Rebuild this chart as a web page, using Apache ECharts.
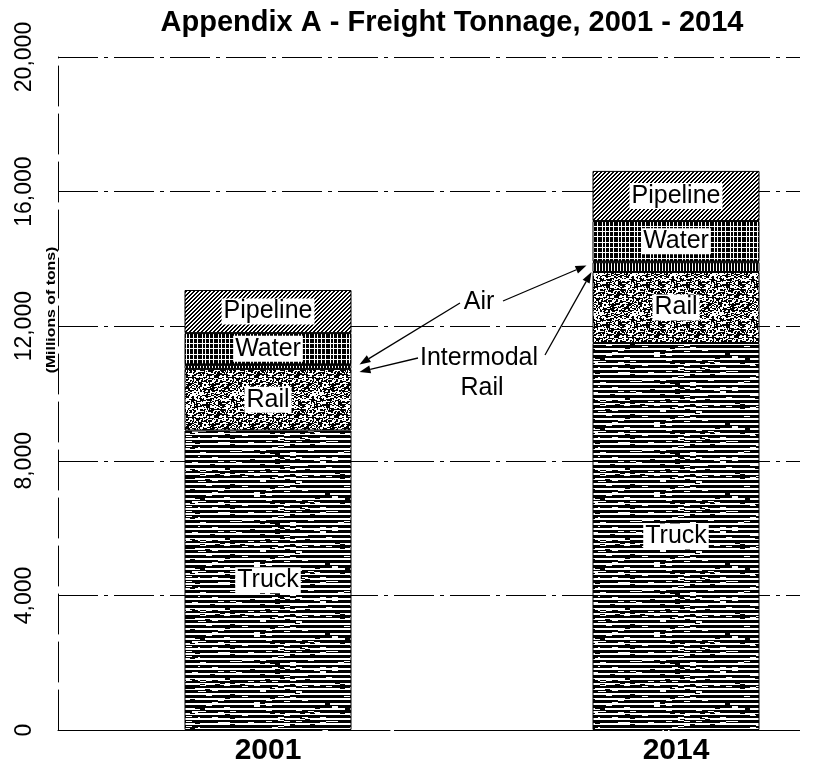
<!DOCTYPE html>
<html lang="en">
<head>
<meta charset="UTF-8">
<title>Freight Tonnage</title>
<script src="https://cdn.jsdelivr.net/npm/echarts@6/dist/echarts.min.js"></script>
<style>
  html, body { margin: 0; background: #fff; }
  #main { width: 814px; height: 767px; }
</style>
</head>
<body>
<div id="main"></div>
<script>
// data (millions of tons)
var years = ['2001', '2014'];
var truck = [8900, 11500];
var rail = [1830, 2110];
var intermodal = [120, 290];
var air = [15, 25];
var water = [930, 1200];
var pipeline = [1280, 1490];
var yMin = 0, yMax = 20000, yStep = 4000;

var FONT = '"Liberation Sans", Arial, sans-serif';

// small deterministic hash for the scan-like textures
function hash(x, y) {
  var n = (x * 374761393 + y * 668265263) | 0;
  n = Math.imul(n ^ (n >>> 13), 1274126177);
  return ((n ^ (n >>> 16)) >>> 0) / 4294967296;
}
function tile(w, h, fn) {
  var c = document.createElement('canvas');
  c.width = w; c.height = h;
  var ctx = c.getContext('2d');
  ctx.fillStyle = '#fff';
  ctx.fillRect(0, 0, w, h);
  ctx.fillStyle = '#000';
  for (var y = 0; y < h; y++) {
    for (var x = 0; x < w; x++) {
      if (fn(x, y)) ctx.fillRect(x, y, 1, 1);
    }
  }
  return { image: c, repeat: 'repeat' };
}

// heavy horizontal lines with thin white dashes
var truckFill = tile(200, 70, function (x, y) {
  var r = y % 5;
  if (r < 3) return hash(Math.floor(x / 6), y + 7) > 0.1;
  return hash(Math.floor(x / 5), y + 31) < 0.07;
});
var railFill = tile(40, 40, function (x, y) {
  return hash(x >> 1, y) * 0.6 + hash(x, y >> 1) * 0.4 < 0.5;
});
var interFill = tile(3, 4, function (x, y) { return x < 2; });
var airFill = '#000';
var waterFill = tile(16, 16, function (x, y) {
  var hl = (y === 2 || y === 7 || y === 12);
  var vl = (x === 1 || x === 5 || x === 10 || x === 13);
  return !(hl || vl);
});
var pipeFill = tile(4, 4, function (x, y) { return (x + y) % 4 < 2; });

function layer(name, data, fill, showLabel) {
  return {
    name: name,
    type: 'bar',
    stack: 'total',
    xAxisIndex: 1,
    yAxisIndex: 1,
    barWidth: 167,
    clip: false,
    data: data,
    itemStyle: { color: fill, borderColor: '#000', borderWidth: 1 },
    label: {
      show: showLabel,
      position: 'inside',
      formatter: '{a}',
      color: '#000',
      fontSize: 25,
      fontFamily: FONT,
      backgroundColor: '#fff',
      padding: [1, 2, 0, 2]
    },
    emphasis: { disabled: true },
    silent: true
  };
}

var chart = echarts.init(document.getElementById('main'));
var gridLine = { color: '#000', width: 1, type: [40, 6, 4, 6] };

chart.setOption({
  animation: false,
  backgroundColor: '#fff',
  title: {
    text: 'Appendix A - Freight Tonnage, 2001 - 2014',
    left: 447,
    textAlign: 'center',
    top: 3,
    textStyle: { fontSize: 29, fontWeight: 'bold', color: '#000', fontFamily: FONT }
  },
  grid: [
    { left: 58, right: 14, top: 57, bottom: 37 },
    // bar grid: the two years sit on its edges
    { left: 268, right: 138, top: 57, bottom: 37 }
  ],
  xAxis: [
    {
      type: 'category', gridIndex: 0, data: [''],
      axisLine: { show: true, lineStyle: { color: '#000', type: [60, 8] } },
      axisTick: { show: false }, axisLabel: { show: false }, splitLine: { show: false }
    },
    {
      type: 'category', gridIndex: 1, data: years, boundaryGap: false,
      axisLine: { show: false }, axisTick: { show: false },
      axisLabel: { fontSize: 30, fontWeight: 'bold', color: '#000', fontFamily: FONT, margin: 6 }
    }
  ],
  yAxis: [
    {
      type: 'value', gridIndex: 0, min: yMin, max: yMax, interval: yStep,
      axisLine: { show: true, lineStyle: { color: '#000', type: [40, 8] } },
      axisTick: { show: false },
      axisLabel: {
        rotate: 90, fontSize: 23, color: '#000', fontFamily: FONT, margin: 22,
        formatter: function (v) { return v.toLocaleString('en-US'); }
      },
      splitLine: { show: true, lineStyle: gridLine }
    },
    { type: 'value', gridIndex: 1, min: yMin, max: yMax, interval: yStep, show: false }
  ],
  series: [
    layer('Truck', truck, truckFill, true),
    layer('Rail', rail, railFill, true),
    layer('Intermodal Rail', intermodal, interFill, false),
    layer('Air', air, airFill, false),
    layer('Water', water, waterFill, true),
    layer('Pipeline', pipeline, pipeFill, true)
  ]
});

// annotations: texts with arrows pointing at the thin Air / Intermodal layers
function px(i, v) { return chart.convertToPixel({ seriesIndex: 0 }, [years[i], v]); }
function arrow(x1, y1, x2, y2) {
  var a = Math.atan2(y2 - y1, x2 - x1), L = 11, W = 4;
  var bx = x2 - L * Math.cos(a), by = y2 - L * Math.sin(a);
  return [
    { type: 'line', shape: { x1: x1, y1: y1, x2: bx, y2: by }, style: { stroke: '#000', lineWidth: 1.3 } },
    { type: 'polygon', shape: { points: [[x2, y2],
        [bx + W * Math.sin(a), by - W * Math.cos(a)],
        [bx - W * Math.sin(a), by + W * Math.cos(a)]] }, style: { fill: '#000' } }
  ];
}
var half = 167 / 2;
var els = [];
for (var i = 0; i < years.length; i++) {
  var interBottom = truck[i] + rail[i];
  var airTop = interBottom + intermodal[i] + air[i];
  var c = px(i, airTop), d = px(i, interBottom);
  if (i === 0) {
    els = els.concat(arrow(460, 303, c[0] + half + 8, c[1]));
    els = els.concat(arrow(418, 358, d[0] + half + 8, d[1] + 3));
  } else {
    els = els.concat(arrow(503, 301, c[0] - half - 6, c[1] + 4));
    els = els.concat(arrow(545, 355, d[0] - half - 1, d[1]));
  }
}
var txt = { fill: '#000', fontSize: 25, fontFamily: FONT, align: 'center', verticalAlign: 'middle' };
els.push({ type: 'text', x: 479, y: 302, style: Object.assign({ text: 'Air' }, txt) });
els.push({ type: 'text', x: 479, y: 358, style: Object.assign({ text: 'Intermodal' }, txt) });
els.push({ type: 'text', x: 482, y: 388, style: Object.assign({ text: 'Rail' }, txt) });
els.push({
  type: 'text', x: 52, y: 310, rotation: Math.PI / 2, scaleX: 1.32,
  style: { text: '(Millions of tons)', fill: '#000', fontSize: 12, fontWeight: 'bold',
    fontFamily: FONT, align: 'center', verticalAlign: 'middle' }
});
chart.setOption({ graphic: els });
</script>
</body>
</html>
